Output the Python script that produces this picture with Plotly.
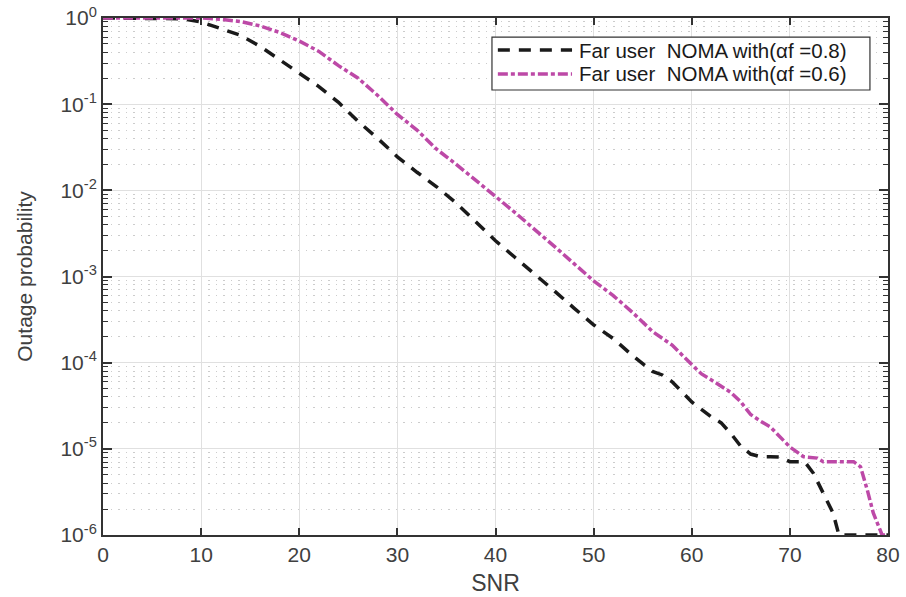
import plotly.graph_objects as go

snr_08 = [0, 2, 4, 6, 8, 10, 12, 14, 16, 18, 20, 22, 24, 26, 28, 30, 32, 34, 36, 38, 40,
          42, 44, 46, 48, 50, 52, 54, 56, 57, 58, 60, 62, 63, 64, 65, 66, 67, 68, 69, 70,
          71.5, 72.4, 73.4, 74.4, 75, 80]
pout_08 = [1, 1, 1, 1, 0.98, 0.9, 0.76, 0.63, 0.47, 0.33, 0.23, 0.16, 0.105, 0.063, 0.04,
           0.0245, 0.0162, 0.011, 0.0071, 0.0043, 0.0026, 0.00166, 0.00107, 6.8e-4, 4.3e-4,
           2.75e-4, 1.9e-4, 1.2e-4, 7.9e-5, 7.2e-5, 6.0e-5, 3.5e-5, 2.35e-5, 2.0e-5, 1.5e-5,
           1.07e-5, 8.7e-6, 8.1e-6, 8.1e-6, 8.0e-6, 7.1e-6, 7.1e-6, 5.2e-6, 3.1e-6, 1.8e-6,
           1e-6, 1e-6]

snr_06 = [0, 2, 4, 6, 8, 10, 12, 14, 16, 18, 20, 22, 24, 26, 28, 30, 32, 34, 36, 38, 40,
          42, 44, 46, 48, 50, 52, 54, 56, 58, 60, 61, 62, 64, 65, 66, 67, 68, 70, 71.4,
          72.8, 73.4, 76.5, 77.2, 77.9, 78.5, 79.4, 80]
pout_06 = [1, 1, 1, 1, 1, 1, 0.966, 0.91, 0.81, 0.68, 0.54, 0.41, 0.28, 0.2, 0.126, 0.076,
           0.05, 0.03, 0.02, 0.0132, 0.0085, 0.0055, 0.00355, 0.00224, 0.00141, 8.9e-4,
           6.0e-4, 3.8e-4, 2.3e-4, 1.6e-4, 9.5e-5, 7.4e-5, 6.3e-5, 4.5e-5, 3.5e-5, 2.5e-5,
           2.1e-5, 1.8e-5, 1.05e-5, 8.1e-6, 7.8e-6, 7.1e-6, 7.1e-6, 6.2e-6, 3.3e-6, 1.8e-6,
           1e-6, 1e-6]

label_08 = "Far user\u00a0\u00a0NOMA with(\u03b1f =0.8)"
label_06 = "Far user\u00a0\u00a0NOMA with(\u03b1f =0.6)"

x_ticks = [0, 10, 20, 30, 40, 50, 60, 70, 80]
y_exps = [-6, -5, -4, -3, -2, -1, 0]
y_tickvals = [10 ** e for e in y_exps]
y_ticktext = ["10<sup>%d</sup>" % e for e in y_exps]
y_minor = [m * 10 ** e for e in y_exps[:-1] for m in range(2, 10)]

FONT = "Liberation Sans, Arial, sans-serif"
AX = "#333333"
TXT = "#404040"
C08 = "#1a1a1a"
C06 = "#bd49a7"
DASH08 = "12px,9px"
DASH06 = "10px,3px,4px,3px"

fig = go.Figure()
fig.add_trace(go.Scatter(x=snr_08, y=pout_08, mode="lines", name=label_08, showlegend=False,
                         line=dict(color=C08, width=3.5, dash=DASH08)))
fig.add_trace(go.Scatter(x=snr_06, y=pout_06, mode="lines", name=label_06, showlegend=False,
                         line=dict(color=C06, width=3.5, dash=DASH06)))

# legend box drawn inside the axes (MATLAB style)
fig.add_shape(type="rect", xref="paper", yref="paper", x0=0.4955, x1=0.977, y0=0.8607, y1=0.9632,
              line=dict(color=AX, width=1.2), fillcolor="white", layer="above")
for yy, col, dsh, lab in [(0.9381, C08, DASH08, label_08), (0.8917, C06, DASH06, label_06)]:
    fig.add_shape(type="line", xref="paper", yref="paper", x0=0.503, x1=0.5975, y0=yy, y1=yy,
                  line=dict(color=col, width=3.5, dash=dsh), layer="above")
    fig.add_annotation(xref="paper", yref="paper", x=0.6035, y=yy, xanchor="left", yanchor="middle",
                       text=lab, showarrow=False, font=dict(family=FONT, size=20.5, color="#1a1a1a"))

fig.update_layout(
    width=906, height=597,
    margin=dict(l=103, r=18, t=18, b=62, autoexpand=False),
    paper_bgcolor="white", plot_bgcolor="white",
    font=dict(family=FONT, size=21, color=TXT),
    showlegend=False,
)
fig.update_xaxes(
    range=[0, 80], tickvals=x_ticks, ticks="inside", ticklen=7, tickcolor=AX, tickwidth=1.5,
    showline=True, linecolor=AX, linewidth=2, mirror="ticks", automargin=False,
    showgrid=True, gridcolor="#e0e0e0", gridwidth=1.3, zeroline=False,
    title=dict(text="SNR", font=dict(family=FONT, size=23, color=TXT), standoff=10),
    tickfont=dict(family=FONT, size=21, color=TXT),
)
fig.update_yaxes(
    type="log", range=[-6, 0], tickvals=y_tickvals, ticktext=y_ticktext,
    ticks="inside", ticklen=9, tickcolor=AX, tickwidth=1.5,
    showline=True, linecolor=AX, linewidth=2, mirror="ticks", automargin=False,
    showgrid=True, gridcolor="#e0e0e0", gridwidth=1.3, zeroline=False,
    minor=dict(tickvals=y_minor, ticks="inside", ticklen=5, tickcolor=AX, tickwidth=1.3,
               showgrid=True, gridcolor="#cccccc", griddash="1.5px,6px", gridwidth=1),
    title=dict(text="Outage probability", font=dict(family=FONT, size=21, color=TXT), standoff=22),
    tickfont=dict(family=FONT, size=21, color=TXT),
)

fig.write_html("out.html")
